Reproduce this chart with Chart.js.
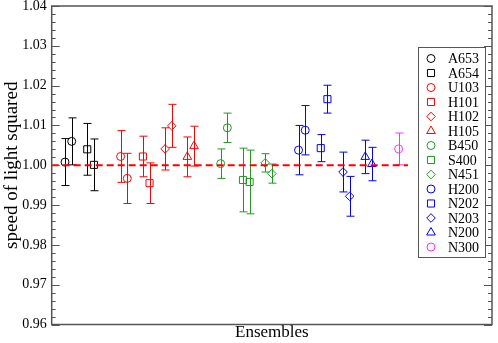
<!DOCTYPE html>
<html>
<head>
<meta charset="utf-8">
<script src="https://cdn.jsdelivr.net/npm/chart.js@4/dist/chart.umd.min.js"></script>
<style>
  body { margin: 0; background: #fff; }
  #c2Chart { display: block; }
</style>
</head>
<body>
<canvas id="c2Chart" width="498" height="343"></canvas>
<script>
// ensembles, one legend entry each
const ensembles = ['A653', 'A654', 'U103', 'H101', 'H102', 'H105', 'B450',
                   'S400', 'N451', 'H200', 'N202', 'N203', 'N200', 'N300'];
// horizontal slot of every measurement (arbitrary units, no ticks shown)
const xSlots = [[2, 3], [5.33, 6.33], [10.33, 11.33], [13.67, 14.67], [17, 18],
                [20.33, 21.33], [25.33, 26.33], [28.67, 29.67], [32, 33], [37, 38],
                [40.33, 41.33], [43.67, 44.67], [47, 48], [52]];
// c^2 values and their errors
const c2Values = [[1.0008, 1.0060], [1.0040, 1.0001], [1.0022, 0.9967], [1.0022, 0.9955],
                  [1.0041, 1.0099], [1.0021, 1.0048], [1.0004, 1.0094], [0.9963, 0.9958],
                  [1.0006, 0.9979], [1.0038, 1.0088], [1.0043, 1.0166], [0.9983, 0.9922],
                  [1.0021, 1.0003], [1.0041]];
const c2Errors = [[0.0059, 0.0059], [0.0065, 0.0065], [0.0065, 0.0063], [0.0051, 0.0051],
                  [0.0053, 0.0054], [0.0050, 0.0050], [0.0037, 0.0037], [0.0080, 0.0080],
                  [0.0023, 0.0024], [0.0062, 0.0062], [0.0034, 0.0035], [0.0050, 0.0050],
                  [0.0042, 0.0042], [0.0040]];
const yTicks = [0.96, 0.97, 0.98, 0.99, 1.00, 1.01, 1.02, 1.03, 1.04];
const refValue = 1.0;
const refRange = [0, 53.4];

// styles
const markerShape = ['circle', 'rect', 'circle', 'rect', 'rectRot', 'triangle', 'circle',
                     'rect', 'rectRot', 'circle', 'rect', 'rectRot', 'triangle', 'circle'];
const markerColor = ['#000000', '#000000', '#ff0000', '#ff0000', '#ff0000', '#ff0000', '#1f9a1f',
                     '#1f9a1f', '#1f9a1f', '#0000ff', '#0000ff', '#0000ff', '#0000ff', '#ff30ff'];
const markerSize = { circle: 4, rect: 5, rectRot: 4.3, triangle: 5 };

const SERIF = "'Liberation Serif', 'DejaVu Serif', serif";

const datasets = ensembles.map((name, i) => ({
    label: name,
    data: xSlots[i].map((x, j) => ({ x: x, y: c2Values[i][j] })),
    errors: c2Errors[i],
    pointStyle: markerShape[i],
    pointRadius: markerSize[markerShape[i]],
    pointBorderWidth: 1,
    borderColor: markerColor[i],
    backgroundColor: 'rgba(0,0,0,0)',
    showLine: false,
    order: 1
}));

datasets.push({
    label: 'ref',
    type: 'line',
    data: refRange.map(x => ({ x: x, y: refValue })),
    borderColor: '#ff0000',
    borderWidth: 2,
    borderDash: [7, 4],
    pointRadius: 0,
    fill: false,
    order: 0
});

// error bars, frame with inner ticks, boxed legend
const xmgrDecor = {
    id: 'xmgrDecor',
    beforeDatasetsDraw(chart) {
        const { ctx, scales: { x, y } } = chart;
        ctx.save();
        ctx.lineWidth = 1;
        chart.data.datasets.forEach(ds => {
            if (!ds.errors) return;
            ctx.strokeStyle = ds.borderColor;
            ds.data.forEach((p, j) => {
                const px = Math.round(x.getPixelForValue(p.x)) + 0.5;
                const top = y.getPixelForValue(p.y + ds.errors[j]);
                const bot = y.getPixelForValue(p.y - ds.errors[j]);
                ctx.beginPath();
                ctx.moveTo(px, top); ctx.lineTo(px, bot);
                ctx.moveTo(px - 4, top); ctx.lineTo(px + 4, top);
                ctx.moveTo(px - 4, bot); ctx.lineTo(px + 4, bot);
                ctx.stroke();
            });
        });
        ctx.restore();
    },
    afterDraw(chart) {
        const { ctx, chartArea: a, scales: { y } } = chart;
        ctx.save();
        ctx.strokeStyle = '#555';
        ctx.lineWidth = 1.5;
        ctx.strokeRect(a.left, a.top, a.right - a.left, a.bottom - a.top);

        ctx.lineWidth = 1;
        for (let k = 0; k <= 40; k++) {
            const v = 0.96 + k * 0.002;
            const py = Math.round(y.getPixelForValue(v)) + 0.5;
            const len = k % 5 === 0 ? 8 : 4;
            ctx.beginPath();
            ctx.moveTo(a.left, py); ctx.lineTo(a.left + len, py);
            ctx.moveTo(a.right, py); ctx.lineTo(a.right - len, py);
            ctx.stroke();
        }

        // legend
        const bx = 418.5, by = 47.5, bw = 67, bh = 210;
        ctx.fillStyle = '#fff';
        ctx.fillRect(bx, by, bw, bh);
        ctx.strokeStyle = '#555';
        ctx.strokeRect(bx, by, bw, bh);
        ctx.font = '14px ' + SERIF;
        ctx.textBaseline = 'middle';
        ensembles.forEach((name, i) => {
            const ly = 58.5 + i * 14.5;
            ctx.strokeStyle = markerColor[i];
            ctx.fillStyle = 'rgba(0,0,0,0)';
            ctx.lineWidth = 1;
            Chart.helpers.drawPoint(ctx, {
                pointStyle: markerShape[i],
                radius: markerSize[markerShape[i]],
                rotation: 0,
                borderWidth: 1
            }, 431, ly);
            ctx.fillStyle = '#000';
            ctx.fillText(name, 448, ly + 1);
        });
        ctx.restore();
    }
};

new Chart(document.getElementById('c2Chart'), {
    type: 'scatter',
    data: { datasets: datasets },
    options: {
        responsive: false,
        animation: false,
        layout: { padding: { top: 0, right: 6, left: 0, bottom: 0 } },
        plugins: { legend: { display: false }, tooltip: { enabled: false } },
        scales: {
            x: {
                type: 'linear', min: 0, max: 66,
                grid: { display: false, drawTicks: false },
                border: { display: false },
                ticks: { display: false },
                title: { display: true, text: 'Ensembles', color: '#000',
                         font: { family: SERIF, size: 17 }, padding: { top: 0, bottom: 0 } },
                afterFit(s) { s.height = 18.5; }
            },
            y: {
                min: 0.96, max: 1.04,
                grid: { display: false, drawTicks: false },
                border: { display: false },
                afterBuildTicks(s) { s.ticks = yTicks.map(v => ({ value: v })); },
                ticks: { color: '#000', padding: 5, font: { family: SERIF, size: 14, lineHeight: 0.05 },
                         callback: v => v.toFixed(2) },
                title: { display: true, text: 'speed of light squared', color: '#000',
                         font: { family: SERIF, size: 19 }, padding: { top: 1, bottom: 2 } },
                afterFit(s) { s.width = 51.7; }
            }
        }
    },
    plugins: [xmgrDecor]
});
</script>
</body>
</html>
